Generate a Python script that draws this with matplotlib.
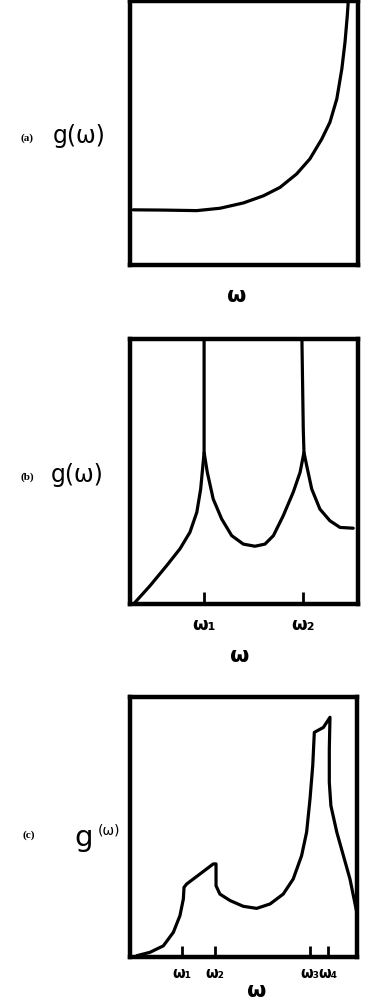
import matplotlib.pyplot as plt

plt.rcParams['font.family'] = ['DejaVu Sans']

# (a) g(w) rising from a flat floor
a_w = [0.14, 1.46, 2.93, 3.95, 4.97, 5.85, 6.58, 7.31, 7.89, 8.41, 8.77, 9.07, 9.29, 9.43, 9.53, 9.57]
a_g = [2.09, 2.08, 2.06, 2.15, 2.35, 2.62, 2.94, 3.45, 4.02, 4.77, 5.41, 6.29, 7.42, 8.44, 9.44, 9.95]

# (b) two singular peaks
b_left_w = [0.22, 0.88, 1.61, 2.19, 2.63, 2.93, 3.10, 3.21, 3.25, 3.25]
b_left_g = [0.06, 0.69, 1.45, 2.08, 2.71, 3.46, 4.34, 5.35, 5.72, 10.0]
b_mid_w = [3.25, 3.39, 3.65, 4.02, 4.46, 4.97, 5.48, 5.92, 6.29, 6.72, 7.16, 7.46, 7.63, 7.60, 7.54]
b_mid_g = [5.72, 4.97, 3.96, 3.21, 2.58, 2.26, 2.18, 2.26, 2.58, 3.33, 4.22, 4.97, 5.72, 6.60, 10.0]
b_right_w = [7.63, 7.75, 7.97, 8.33, 8.77, 9.21, 9.79]
b_right_g = [5.72, 5.22, 4.34, 3.58, 3.14, 2.89, 2.86]
b_ticks = [3.25, 7.60]
b_labels = ['ω₁', 'ω₂']

# (c) four critical points
c_w = [0.30, 0.88, 1.47, 1.91, 2.20, 2.35, 2.38, 2.50, 3.67, 3.79, 3.79, 3.96, 4.41, 4.99,
       5.58, 6.17, 6.75, 7.19, 7.56, 7.78, 7.93, 8.05, 8.12, 8.52, 8.81, 8.78, 8.78, 8.85,
       9.11, 9.40, 9.69, 9.87, 9.99]
c_g = [0.05, 0.18, 0.43, 0.95, 1.59, 2.23, 2.68, 2.81, 3.58, 3.58, 2.74, 2.42, 2.17, 1.95,
       1.87, 2.04, 2.42, 3.00, 3.90, 4.80, 6.08, 7.36, 8.64, 8.83, 9.22, 8.00, 6.72, 5.82,
       4.80, 3.90, 3.00, 2.23, 1.72]
c_ticks = [2.28, 3.74, 7.93, 8.74]
c_labels = ['ω₁', 'ω₂', 'ω₃', 'ω₄']

W, H = 369, 1004
fig = plt.figure(figsize=(W / 100, H / 100), dpi=100)


def panel(x0, x1, y0, y1):
    ax = fig.add_axes([x0 / W, 1 - y1 / H, (x1 - x0) / W, (y1 - y0) / H])
    ax.set_xlim(0, 10)
    ax.set_ylim(0, 10)
    ax.set_yticks([])
    for s in ax.spines.values():
        s.set_linewidth(3.2)
    return ax


line = dict(color='black', lw=2.3, solid_joinstyle='round', solid_capstyle='round')

ax_a = panel(130, 358, 2, 266)
ax_a.plot(a_w, a_g, **line)
ax_a.set_xticks([])

ax_b = panel(130, 358, 340, 605)
for xs, ys in [(b_left_w, b_left_g), (b_mid_w, b_mid_g), (b_right_w, b_right_g)]:
    ax_b.plot(xs, ys, **line)
ax_b.set_xticks(b_ticks, b_labels, fontsize=13, fontweight='bold')
ax_b.tick_params(axis='x', direction='in', length=9, width=2, pad=8)

ax_c = panel(130, 357, 698, 958)
ax_c.plot(c_w, c_g, **line)
ax_c.set_xticks(c_ticks, c_labels, fontsize=10.5, fontweight='bold')
ax_c.tick_params(axis='x', direction='in', length=8, width=2, pad=6)

# panel tags and axis names
tag = dict(family='Liberation Serif', fontsize=8, fontweight='bold', ha='center', va='center')
fig.text(27 / W, 1 - 138 / H, '(a)', **tag)
fig.text(27 / W, 1 - 477 / H, '(b)', **tag)
fig.text(29 / W, 1 - 835 / H, '(c)', **tag)

gl = dict(fontsize=17, ha='center', va='center')
fig.text(79 / W, 1 - 136 / H, 'g(ω)', **gl)
fig.text(77 / W, 1 - 475 / H, 'g(ω)', **gl)
fig.text(84 / W, 1 - 838 / H, 'g', fontsize=21, ha='center', va='center')
fig.text(109 / W, 1 - 830 / H, '(ω)', fontsize=10, ha='center', va='center')

wl = dict(fontsize=16, fontweight='bold', ha='center', va='center')
fig.text(237 / W, 1 - 296 / H, 'ω', **wl)
fig.text(240 / W, 1 - 656 / H, 'ω', **wl)
fig.text(257 / W, 1 - 991 / H, 'ω', **wl)

fig.savefig('out.png', dpi=100)
